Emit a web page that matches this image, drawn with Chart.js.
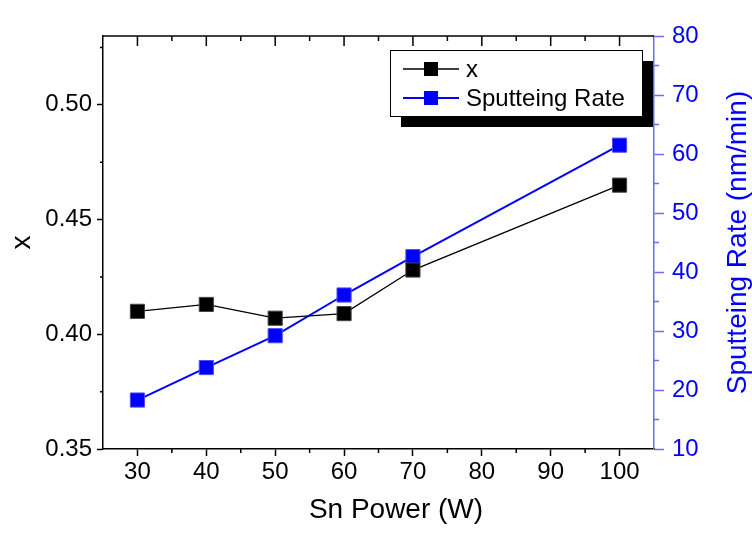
<!DOCTYPE html>
<html>
<head>
<meta charset="utf-8">
<script src="https://cdn.jsdelivr.net/npm/chart.js@4/dist/chart.umd.min.js"></script>
<style>
  html, body { margin: 0; padding: 0; background: #fff; }
  #wrap { width: 752px; height: 539px; }
</style>
</head>
<body>
<div id="wrap"><canvas id="chart" width="752" height="539"></canvas></div>
<script>
// data
const powers = [30, 40, 50, 60, 70, 100];
const xValues = [0.410, 0.413, 0.407, 0.409, 0.428, 0.465];
const rateValues = [18.3, 23.8, 29.2, 36.1, 42.6, 61.5];

const xTicks = [30, 40, 50, 60, 70, 80, 90, 100];
const xMinor = [35, 45, 55, 65, 75, 85, 95];
const leftTicks = [0.35, 0.40, 0.45, 0.50];
const leftMinor = [0.375, 0.425, 0.475, 0.525];
const rightTicks = [10, 20, 30, 40, 50, 60, 70, 80];
const rightMinor = [15, 25, 35, 45, 55, 65, 75];

const FONT = "'Liberation Sans', Arial, sans-serif";
const BLUE = '#0000ff';
const AXIS_BLUE = '#6a6aff';

const setTicks = list => scale => { scale.ticks = list.map(v => ({ value: v })); };

// minor ticks, top frame, axis titles, legend with shadow
const extras = {
    id: 'extras',
    afterDraw(chart) {
        const ctx = chart.ctx;
        const a = chart.chartArea;
        const sx = chart.scales.x, sl = chart.scales.y, sr = chart.scales.y2;
        const midY = (a.top + a.bottom) / 2;
        ctx.save();

        // top frame line + inward ticks
        ctx.strokeStyle = '#000';
        ctx.lineWidth = 1.5;
        ctx.beginPath();
        ctx.moveTo(a.left, a.top);
        ctx.lineTo(a.right, a.top);
        ctx.stroke();
        ctx.beginPath();
        xTicks.forEach(v => { const p = sx.getPixelForValue(v); ctx.moveTo(p, a.top); ctx.lineTo(p, a.top + 10); });
        xMinor.forEach(v => { const p = sx.getPixelForValue(v); ctx.moveTo(p, a.top); ctx.lineTo(p, a.top + 5); });
        xMinor.forEach(v => { const p = sx.getPixelForValue(v); ctx.moveTo(p, a.bottom); ctx.lineTo(p, a.bottom + 4); });
        leftMinor.forEach(v => { const p = sl.getPixelForValue(v); ctx.moveTo(a.left, p); ctx.lineTo(a.left - 3, p); });
        ctx.stroke();

        ctx.strokeStyle = AXIS_BLUE;
        ctx.beginPath();
        rightMinor.forEach(v => { const p = sr.getPixelForValue(v); ctx.moveTo(a.right, p); ctx.lineTo(a.right + 5, p); });
        ctx.stroke();

        // axis titles
        ctx.textAlign = 'center';
        ctx.textBaseline = 'middle';
        ctx.font = '28px ' + FONT;
        ctx.fillStyle = '#000';
        ctx.fillText('Sn Power (W)', 396, 510);

        ctx.translate(22, midY);
        ctx.rotate(-Math.PI / 2);
        ctx.fillText('x', 0, 0);
        ctx.setTransform(1, 0, 0, 1, 0, 0);

        ctx.fillStyle = BLUE;
        ctx.translate(738, midY);
        ctx.rotate(-Math.PI / 2);
        ctx.fillText('Sputteing Rate (nm/min)', 0, 0);
        ctx.setTransform(1, 0, 0, 1, 0, 0);

        // legend
        const bx = 390, by = 50, bw = 252, bh = 66;
        ctx.fillStyle = '#000';
        ctx.fillRect(bx + 11, by + 11, bw, bh);
        ctx.fillStyle = '#fff';
        ctx.fillRect(bx, by, bw, bh);
        ctx.strokeStyle = '#000';
        ctx.lineWidth = 1;
        ctx.strokeRect(bx + 0.5, by + 0.5, bw, bh);

        const rows = [69, 98];
        chart.data.datasets.forEach((ds, i) => {
            const y = rows[i];
            ctx.strokeStyle = ds.borderColor;
            ctx.lineWidth = ds.borderWidth;
            ctx.beginPath();
            ctx.moveTo(403, y);
            ctx.lineTo(459, y);
            ctx.stroke();
            ctx.fillStyle = ds.pointBackgroundColor;
            ctx.fillRect(424, y - 7, 14, 14);
            ctx.fillStyle = '#000';
            ctx.font = '24px ' + FONT;
            ctx.textAlign = 'left';
            ctx.textBaseline = 'middle';
            ctx.fillText(ds.label, 466, y + 1);
        });
        ctx.restore();
    }
};

new Chart(document.getElementById('chart'), {
    type: 'line',
    data: {
        labels: powers,
        datasets: [
            {
                label: 'x',
                data: powers.map((p, i) => ({ x: p, y: xValues[i] })),
                yAxisID: 'y',
                borderColor: '#000',
                borderWidth: 1.3,
                pointStyle: 'rect',
                pointRadius: 10,
                pointBackgroundColor: '#000',
                pointBorderColor: '#444',
                pointBorderWidth: 1,
            },
            {
                label: 'Sputteing Rate',
                data: powers.map((p, i) => ({ x: p, y: rateValues[i] })),
                yAxisID: 'y2',
                borderColor: BLUE,
                borderWidth: 2,
                pointStyle: 'rect',
                pointRadius: 10,
                pointBackgroundColor: BLUE,
                pointBorderColor: '#4a4aff',
                pointBorderWidth: 1,
            },
        ],
    },
    plugins: [extras],
    options: {
        responsive: false,
        animation: false,
        layout: { padding: { top: 36, left: 0, right: 0, bottom: 0 } },
        plugins: { legend: { display: false }, tooltip: { enabled: false } },
        scales: {
            x: {
                type: 'linear',
                position: 'bottom',
                min: 25,
                max: 105,
                afterBuildTicks: setTicks(xTicks),
                afterFit: s => { s.height = 90; },
                border: { color: '#000', width: 1.5 },
                grid: { drawOnChartArea: false, tickLength: 7, tickColor: '#000', tickWidth: 1.5 },
                ticks: { color: '#000', font: { family: FONT, size: 24 }, padding: 2, maxRotation: 0 },
            },
            y: {
                type: 'linear',
                position: 'left',
                min: 0.35,
                max: 0.53,
                afterBuildTicks: setTicks(leftTicks),
                afterFit: s => { s.width = 103; },
                border: { color: '#000', width: 1.5 },
                grid: { drawOnChartArea: false, tickLength: 6, tickColor: '#000', tickWidth: 1.5 },
                ticks: { color: '#000', font: { family: FONT, size: 24 }, padding: 5, callback: v => v.toFixed(2) },
            },
            y2: {
                type: 'linear',
                position: 'right',
                min: 10,
                max: 80,
                afterBuildTicks: setTicks(rightTicks),
                afterFit: s => { s.width = 98; },
                border: { color: AXIS_BLUE, width: 1.5 },
                grid: { drawOnChartArea: false, tickLength: 10, tickColor: AXIS_BLUE, tickWidth: 1.5 },
                ticks: { color: BLUE, font: { family: FONT, size: 24 }, padding: 8 },
            },
        },
    },
});
</script>
</body>
</html>
